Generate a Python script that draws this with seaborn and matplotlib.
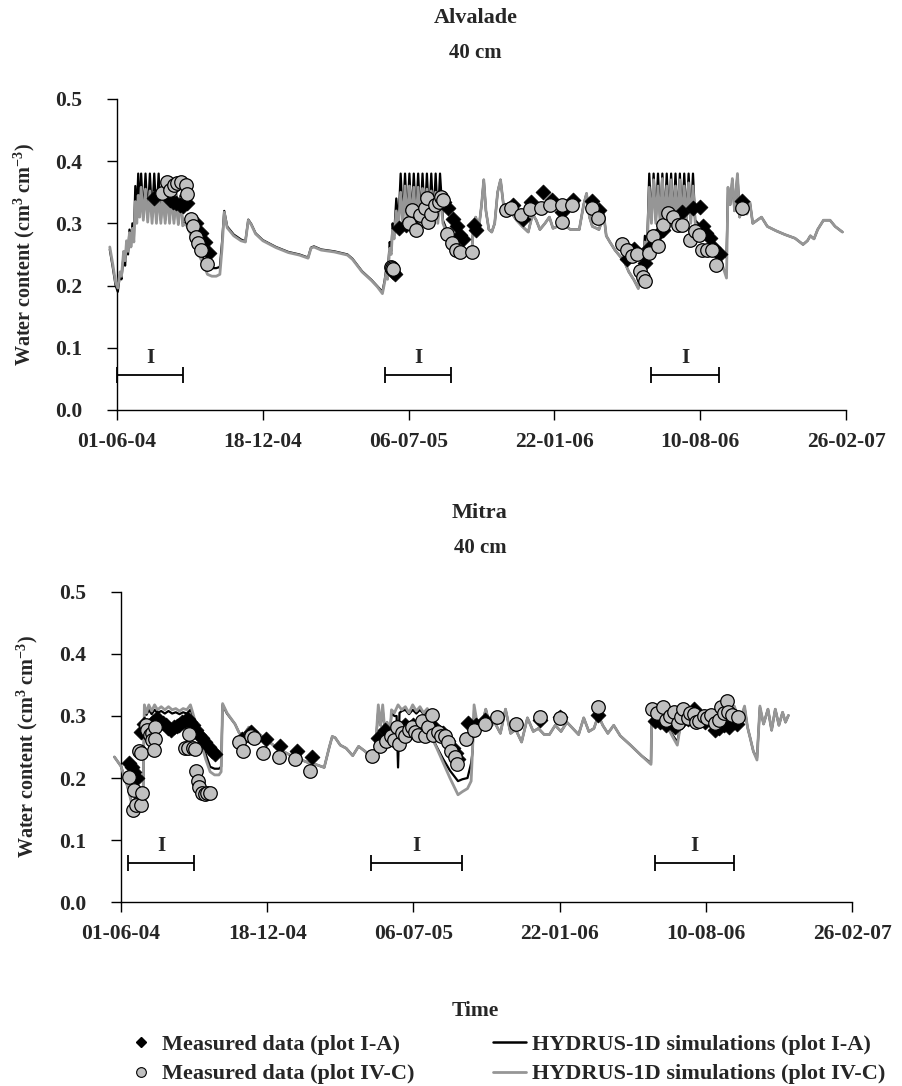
import numpy as np
import pandas as pd
import matplotlib
matplotlib.use("Agg")
import matplotlib.pyplot as plt
from matplotlib.lines import Line2D
import seaborn as sns

# ---------------- data (x = days since 01-06-04) ----------------
tick_days = [0, 200, 400, 600, 800, 1000]
tick_labels = ["01-06-04", "18-12-04", "06-07-05", "22-01-06", "10-08-06", "26-02-07"]
y_ticks = [0.0, 0.1, 0.2, 0.3, 0.4, 0.5]

# Alvalade - HYDRUS-1D plot IV-C (grey)
alv_sim_ivc = [(-10, 0.262), (-6, 0.235), (-2, 0.205), (1, 0.196), (4, 0.222), (6, 0.215), (9, 0.255), (11, 0.24),
    (13, 0.272), (15, 0.255), (17, 0.285), (19, 0.262), (21, 0.292), (23, 0.27), (25, 0.335), (27, 0.30),
    (29, 0.345), (31, 0.31), (33, 0.358), (36, 0.305), (39, 0.355), (42, 0.302), (45, 0.352), (48, 0.30),
    (51, 0.35), (54, 0.30), (57, 0.35), (60, 0.30), (63, 0.348), (66, 0.30), (69, 0.348), (72, 0.30),
    (75, 0.346), (78, 0.30), (81, 0.345), (84, 0.298), (87, 0.34), (90, 0.296), (94, 0.30), (100, 0.285),
    (106, 0.265), (112, 0.25), (118, 0.235), (124, 0.218), (130, 0.215), (136, 0.215), (141, 0.218),
    (144, 0.26), (147, 0.318), (151, 0.293), (160, 0.28), (170, 0.272), (176, 0.27), (180, 0.305),
    (184, 0.298), (190, 0.283), (200, 0.272), (218, 0.261), (235, 0.253), (250, 0.249), (262, 0.244),
    (266, 0.26), (270, 0.262), (280, 0.257), (298, 0.254), (316, 0.249), (323, 0.242), (336, 0.222),
    (349, 0.208), (357, 0.198), (364, 0.187), (367, 0.205), (369, 0.22), (371, 0.21), (374, 0.26),
    (376, 0.25), (378, 0.29), (380, 0.275), (383, 0.32), (386, 0.295), (389, 0.35), (392, 0.30),
    (395, 0.36), (398, 0.30), (401, 0.36), (404, 0.30), (407, 0.358), (410, 0.30), (413, 0.358),
    (416, 0.30), (419, 0.356), (422, 0.30), (425, 0.355), (428, 0.30), (431, 0.352), (434, 0.30),
    (437, 0.35), (440, 0.30), (443, 0.348), (447, 0.30), (452, 0.285), (460, 0.27), (468, 0.26),
    (476, 0.255), (484, 0.25), (487, 0.26), (489, 0.30), (492, 0.31), (496, 0.29), (500, 0.33),
    (503, 0.37), (506, 0.32), (510, 0.29), (514, 0.286), (518, 0.30), (522, 0.35), (526, 0.37),
    (530, 0.33), (536, 0.32), (542, 0.315), (548, 0.305), (556, 0.295), (564, 0.286), (570, 0.315),
    (575, 0.305), (580, 0.29), (587, 0.30), (593, 0.31), (598, 0.292), (604, 0.295), (610, 0.31),
    (616, 0.295), (622, 0.29), (628, 0.29), (634, 0.29), (640, 0.33), (644, 0.348), (648, 0.31),
    (652, 0.295), (656, 0.293), (661, 0.29), (664, 0.30), (667, 0.32), (671, 0.28), (676, 0.27),
    (683, 0.257), (690, 0.247), (696, 0.238), (702, 0.222), (709, 0.209), (715, 0.195), (718, 0.23),
    (721, 0.215), (724, 0.27), (727, 0.25), (730, 0.358), (733, 0.30), (736, 0.37), (739, 0.30),
    (742, 0.36), (745, 0.30), (748, 0.372), (751, 0.30), (754, 0.36), (757, 0.30), (760, 0.37),
    (763, 0.30), (766, 0.36), (769, 0.30), (772, 0.37), (775, 0.30), (778, 0.36), (781, 0.30),
    (784, 0.365), (787, 0.30), (790, 0.36), (793, 0.30), (797, 0.295), (804, 0.28), (812, 0.271),
    (820, 0.255), (829, 0.238), (836, 0.212), (838, 0.358), (841, 0.33), (844, 0.372), (847, 0.32),
    (851, 0.38), (854, 0.31), (859, 0.33), (864, 0.315), (868, 0.334), (872, 0.30), (884, 0.31),
    (892, 0.295), (904, 0.288), (916, 0.282), (930, 0.276), (941, 0.266), (947, 0.272), (951, 0.28),
    (956, 0.275), (961, 0.29), (969, 0.305), (978, 0.305), (985, 0.295), (995, 0.286)]

# Alvalade - HYDRUS-1D plot I-A (black)
alv_sim_ia = [(-10, 0.258), (-6, 0.23), (-2, 0.2), (1, 0.19), (4, 0.218), (6, 0.21), (9, 0.25), (11, 0.232),
    (13, 0.27), (15, 0.25), (17, 0.29), (19, 0.262), (21, 0.30), (23, 0.275), (25, 0.36), (27, 0.31),
    (29, 0.38), (31, 0.315), (33, 0.38), (36, 0.31), (39, 0.38), (42, 0.31), (45, 0.38), (48, 0.31),
    (51, 0.38), (54, 0.31), (57, 0.38), (60, 0.305), (63, 0.355), (66, 0.305), (69, 0.35), (72, 0.305),
    (75, 0.35), (78, 0.305), (81, 0.348), (84, 0.30), (87, 0.345), (90, 0.30), (94, 0.30), (100, 0.29),
    (106, 0.272), (112, 0.258), (118, 0.245), (124, 0.23), (130, 0.228), (136, 0.228), (141, 0.23),
    (144, 0.27), (147, 0.32), (151, 0.295), (160, 0.282), (170, 0.274), (176, 0.271), (180, 0.306),
    (184, 0.299), (190, 0.284), (200, 0.273), (218, 0.262), (235, 0.254), (250, 0.25), (262, 0.245),
    (266, 0.261), (270, 0.263), (280, 0.258), (298, 0.255), (316, 0.25), (323, 0.243), (336, 0.223),
    (349, 0.209), (357, 0.199), (364, 0.19), (367, 0.208), (369, 0.225), (371, 0.215), (374, 0.27),
    (376, 0.255), (378, 0.30), (380, 0.28), (383, 0.34), (386, 0.30), (389, 0.38), (392, 0.305),
    (395, 0.38), (398, 0.305), (401, 0.38), (404, 0.305), (407, 0.38), (410, 0.305), (413, 0.38),
    (416, 0.305), (419, 0.38), (422, 0.305), (425, 0.38), (428, 0.305), (431, 0.38), (434, 0.305),
    (437, 0.38), (440, 0.305), (443, 0.38), (447, 0.305), (452, 0.29), (460, 0.275), (468, 0.265),
    (476, 0.258), (484, 0.253), (487, 0.262), (489, 0.30), (492, 0.31), (496, 0.29), (500, 0.33),
    (503, 0.37), (506, 0.32), (510, 0.29), (514, 0.286), (518, 0.30), (522, 0.35), (526, 0.37),
    (530, 0.33), (536, 0.32), (542, 0.315), (548, 0.305), (556, 0.295), (564, 0.286), (570, 0.315),
    (575, 0.305), (580, 0.29), (587, 0.30), (593, 0.31), (598, 0.292), (604, 0.295), (610, 0.31),
    (616, 0.295), (622, 0.29), (628, 0.29), (634, 0.29), (640, 0.33), (644, 0.348), (648, 0.31),
    (652, 0.295), (656, 0.293), (661, 0.29), (664, 0.30), (667, 0.32), (671, 0.28), (676, 0.27),
    (683, 0.257), (690, 0.247), (696, 0.238), (702, 0.222), (709, 0.209), (715, 0.196), (718, 0.235),
    (721, 0.22), (724, 0.28), (727, 0.26), (730, 0.38), (733, 0.305), (736, 0.38), (739, 0.305),
    (742, 0.38), (745, 0.305), (748, 0.38), (751, 0.305), (754, 0.38), (757, 0.305), (760, 0.38),
    (763, 0.305), (766, 0.38), (769, 0.305), (772, 0.38), (775, 0.305), (778, 0.38), (781, 0.305),
    (784, 0.38), (787, 0.305), (790, 0.38), (793, 0.305), (797, 0.30), (804, 0.285), (812, 0.275),
    (820, 0.262), (829, 0.252), (836, 0.245), (838, 0.355), (841, 0.33), (844, 0.37), (847, 0.32),
    (851, 0.378), (854, 0.31), (859, 0.33), (864, 0.315), (868, 0.334), (872, 0.30), (884, 0.31),
    (892, 0.295), (904, 0.288), (916, 0.282), (930, 0.276), (941, 0.266), (947, 0.272), (951, 0.28),
    (956, 0.275), (961, 0.29), (969, 0.305), (978, 0.305), (985, 0.295), (995, 0.286)]

# Alvalade - measured data
alv_obs_ia = [(50, 0.341), (72, 0.338), (77, 0.335), (81, 0.333), (86, 0.33), (90, 0.328), (96, 0.332),
    (108, 0.30), (115, 0.285), (120, 0.27), (126, 0.252),
    (379, 0.221), (381, 0.218), (387, 0.293), (396, 0.298), (407, 0.295), (420, 0.31), (428, 0.33),
    (440, 0.335), (448, 0.335), (454, 0.324), (461, 0.307), (466, 0.295), (470, 0.281), (475, 0.275),
    (490, 0.298), (493, 0.29),
    (543, 0.329), (557, 0.307), (568, 0.334), (584, 0.35), (597, 0.338), (610, 0.319), (626, 0.338),
    (651, 0.336), (661, 0.322),
    (699, 0.242), (704, 0.256), (709, 0.259), (724, 0.237), (729, 0.26), (742, 0.283), (749, 0.29),
    (775, 0.319), (790, 0.324), (799, 0.326), (804, 0.295), (808, 0.285), (813, 0.276), (817, 0.262),
    (822, 0.255), (827, 0.25), (857, 0.336)]
alv_obs_ivc = [(62, 0.348), (68, 0.367), (73, 0.353), (78, 0.362), (82, 0.365), (88, 0.367), (94, 0.362),
    (96, 0.347), (102, 0.307), (104, 0.296), (108, 0.278), (111, 0.269), (115, 0.257), (124, 0.235),
    (376, 0.23), (377, 0.228), (378, 0.226), (400, 0.30), (405, 0.322), (410, 0.29), (416, 0.314),
    (423, 0.324), (425, 0.341), (427, 0.302), (430, 0.315), (436, 0.329), (441, 0.334), (445, 0.343),
    (447, 0.338), (452, 0.283), (459, 0.269), (465, 0.257), (470, 0.254), (487, 0.254),
    (534, 0.322), (541, 0.324), (554, 0.314), (566, 0.323), (581, 0.324), (594, 0.329), (610, 0.329),
    (610, 0.302), (624, 0.329), (651, 0.324), (660, 0.309),
    (693, 0.267), (699, 0.257), (706, 0.247), (713, 0.25), (717, 0.223), (722, 0.213), (724, 0.208),
    (729, 0.252), (735, 0.28), (742, 0.264), (749, 0.298), (756, 0.317), (762, 0.31), (769, 0.298),
    (775, 0.298), (786, 0.274), (793, 0.288), (798, 0.282), (802, 0.257), (809, 0.257), (816, 0.257),
    (822, 0.233), (857, 0.324)]

# Mitra - HYDRUS-1D plot IV-C (grey)
mit_sim_ivc = [(-9, 0.234), (0, 0.219), (9, 0.186), (15, 0.157), (20, 0.165), (25, 0.155), (30, 0.152),
    (32, 0.318), (35, 0.305), (38, 0.318), (42, 0.308), (46, 0.318), (50, 0.31), (55, 0.315), (60, 0.31),
    (65, 0.315), (70, 0.31), (75, 0.312), (80, 0.308), (85, 0.312), (90, 0.31), (95, 0.318), (98, 0.306),
    (104, 0.28), (110, 0.255), (116, 0.23), (122, 0.21), (128, 0.205), (134, 0.205), (137, 0.21),
    (139, 0.32), (145, 0.305), (156, 0.287), (162, 0.272), (168, 0.27), (175, 0.282), (180, 0.28),
    (192, 0.268), (214, 0.248), (236, 0.234), (258, 0.224), (266, 0.222), (278, 0.217), (285, 0.25),
    (289, 0.267), (293, 0.265), (300, 0.253), (308, 0.248), (317, 0.236), (325, 0.251), (334, 0.243),
    (343, 0.231), (348, 0.248), (352, 0.318), (355, 0.285), (358, 0.318), (361, 0.275), (364, 0.29),
    (367, 0.25), (370, 0.31), (374, 0.305), (379, 0.318), (384, 0.31), (389, 0.315), (394, 0.305),
    (399, 0.318), (404, 0.308), (409, 0.315), (414, 0.305), (419, 0.312), (424, 0.30), (428, 0.258),
    (432, 0.248), (441, 0.224), (450, 0.20), (461, 0.173), (467, 0.178), (474, 0.183), (479, 0.195),
    (481, 0.248), (483, 0.318), (487, 0.29), (492, 0.277), (499, 0.311), (505, 0.282), (511, 0.29),
    (519, 0.272), (526, 0.311), (533, 0.272), (540, 0.278), (548, 0.258), (556, 0.297), (564, 0.275),
    (571, 0.28), (579, 0.27), (586, 0.27), (594, 0.285), (602, 0.275), (610, 0.29), (618, 0.28),
    (626, 0.27), (633, 0.297), (640, 0.275), (647, 0.28), (653, 0.301), (659, 0.285), (666, 0.272),
    (674, 0.285), (683, 0.268), (697, 0.253), (712, 0.236), (725, 0.222), (726, 0.292), (735, 0.30),
    (744, 0.29), (753, 0.27), (761, 0.253), (766, 0.29), (777, 0.30), (790, 0.295), (803, 0.298),
    (818, 0.296), (831, 0.30), (839, 0.316), (846, 0.29), (853, 0.316), (857, 0.282), (861, 0.263),
    (865, 0.243), (870, 0.229), (874, 0.316), (879, 0.287), (885, 0.311), (890, 0.277), (895, 0.311),
    (900, 0.285), (905, 0.306), (909, 0.29), (913, 0.301)]

# Mitra - HYDRUS-1D plot I-A (black)
mit_sim_ia = [(-9, 0.234), (0, 0.219), (9, 0.186), (15, 0.16), (20, 0.168), (25, 0.158), (30, 0.155),
    (32, 0.31), (35, 0.302), (38, 0.31), (42, 0.303), (46, 0.31), (50, 0.305), (55, 0.308), (60, 0.304),
    (65, 0.308), (70, 0.304), (75, 0.306), (80, 0.303), (85, 0.306), (90, 0.304), (95, 0.31), (98, 0.302),
    (104, 0.282), (110, 0.26), (116, 0.238), (122, 0.218), (128, 0.215), (134, 0.215), (137, 0.218),
    (139, 0.318), (145, 0.304), (156, 0.287), (162, 0.272), (168, 0.27), (175, 0.282), (180, 0.28),
    (192, 0.268), (214, 0.248), (236, 0.234), (258, 0.224), (266, 0.222), (278, 0.217), (285, 0.25),
    (289, 0.267), (293, 0.265), (300, 0.253), (308, 0.248), (317, 0.236), (325, 0.251), (334, 0.243),
    (343, 0.231), (348, 0.248), (352, 0.31), (355, 0.285), (358, 0.31), (361, 0.275), (364, 0.29),
    (367, 0.255), (370, 0.305), (374, 0.30), (377, 0.30), (379, 0.217), (381, 0.305), (384, 0.308),
    (389, 0.31), (394, 0.303), (399, 0.31), (404, 0.304), (409, 0.31), (414, 0.303), (419, 0.308),
    (424, 0.298), (428, 0.26), (432, 0.25), (441, 0.23), (450, 0.212), (461, 0.195), (467, 0.198),
    (474, 0.20), (479, 0.224), (481, 0.243), (483, 0.31), (487, 0.29), (492, 0.277), (499, 0.311),
    (505, 0.282), (511, 0.29), (519, 0.272), (526, 0.311), (533, 0.272), (540, 0.278), (548, 0.258),
    (556, 0.297), (564, 0.275), (571, 0.28), (579, 0.27), (586, 0.27), (594, 0.285), (602, 0.275),
    (610, 0.29), (618, 0.28), (626, 0.27), (633, 0.297), (640, 0.275), (647, 0.28), (653, 0.301),
    (659, 0.285), (666, 0.272), (674, 0.285), (683, 0.268), (697, 0.253), (712, 0.236), (725, 0.224),
    (726, 0.29), (735, 0.298), (744, 0.288), (753, 0.272), (761, 0.258), (766, 0.288), (777, 0.298),
    (790, 0.293), (803, 0.296), (818, 0.294), (831, 0.298), (839, 0.314), (846, 0.29), (853, 0.314),
    (857, 0.282), (861, 0.263), (865, 0.243), (870, 0.232), (874, 0.314), (879, 0.287), (885, 0.311),
    (890, 0.277), (895, 0.311), (900, 0.285), (905, 0.306), (909, 0.29), (913, 0.301)]

# Mitra - measured data
mit_obs_ia = [(11, 0.224), (15, 0.218), (18, 0.21), (22, 0.20), (27, 0.275), (31, 0.287), (36, 0.28),
    (40, 0.285), (44, 0.29), (49, 0.297), (53, 0.29), (57, 0.288), (61, 0.285), (65, 0.28), (69, 0.278),
    (73, 0.282), (77, 0.284), (80, 0.286), (84, 0.29), (88, 0.292), (92, 0.295), (95, 0.29), (99, 0.285),
    (103, 0.278), (107, 0.27), (111, 0.265), (115, 0.258), (120, 0.25), (125, 0.243), (129, 0.238),
    (165, 0.263), (178, 0.275), (198, 0.263), (218, 0.251), (241, 0.243), (261, 0.234),
    (352, 0.265), (361, 0.277), (369, 0.27), (379, 0.283), (388, 0.285), (399, 0.285), (409, 0.28),
    (419, 0.285), (428, 0.282), (435, 0.275), (441, 0.272), (447, 0.26), (454, 0.248), (458, 0.24),
    (461, 0.231), (475, 0.288), (486, 0.285), (498, 0.294), (573, 0.294), (600, 0.299), (652, 0.301),
    (730, 0.292), (737, 0.29), (746, 0.285), (758, 0.282), (766, 0.29), (776, 0.295), (784, 0.311),
    (791, 0.30), (799, 0.29), (812, 0.277), (818, 0.28), (825, 0.285), (832, 0.282), (839, 0.29),
    (843, 0.287)]
mit_obs_ivc = [(11, 0.202), (16, 0.149), (18, 0.181), (20, 0.157), (25, 0.243), (27, 0.157), (29, 0.176),
    (28, 0.24), (34, 0.286), (36, 0.277), (40, 0.27), (42, 0.272), (43, 0.261), (47, 0.282), (47, 0.263),
    (45, 0.245), (87, 0.248), (91, 0.249), (93, 0.271), (98, 0.248), (101, 0.247), (102, 0.212),
    (105, 0.195), (107, 0.186), (111, 0.176), (115, 0.174), (118, 0.176), (122, 0.176),
    (162, 0.258), (167, 0.243), (178, 0.268), (182, 0.265), (194, 0.241), (216, 0.234), (238, 0.231),
    (258, 0.212),
    (343, 0.236), (354, 0.251), (363, 0.26), (370, 0.268), (374, 0.262), (378, 0.282), (380, 0.255),
    (384, 0.272), (388, 0.268), (394, 0.277), (398, 0.282), (402, 0.275), (406, 0.27), (412, 0.292),
    (416, 0.268), (420, 0.282), (425, 0.301), (427, 0.27), (433, 0.275), (438, 0.268), (443, 0.268),
    (448, 0.258), (452, 0.243), (457, 0.234), (459, 0.222), (472, 0.263), (483, 0.277), (498, 0.287),
    (514, 0.299), (540, 0.287), (573, 0.299), (600, 0.297), (652, 0.314),
    (727, 0.311), (733, 0.305), (741, 0.314), (746, 0.294), (751, 0.30), (757, 0.306), (762, 0.289),
    (766, 0.299), (769, 0.311), (775, 0.296), (778, 0.305), (784, 0.304), (787, 0.29), (791, 0.292),
    (798, 0.30), (802, 0.296), (807, 0.301), (812, 0.289), (818, 0.294), (821, 0.314), (825, 0.305),
    (829, 0.324), (830, 0.306), (836, 0.302), (844, 0.299)]

# Irrigation periods ("I")
alv_irrig = [(0, 90), (368, 458), (733, 826)]
mit_irrig = [(10, 100), (342, 466), (730, 839)]
alv_irrig_level = 0.056
mit_irrig_level = 0.063

# ---------------- style ----------------
sns.set_theme(style="white")
plt.rcParams["font.family"] = ["Liberation Serif", "DejaVu Serif"]
plt.rcParams["font.weight"] = "bold"
plt.rcParams["mathtext.fontset"] = "custom"
plt.rcParams["mathtext.rm"] = "Liberation Serif:bold"
plt.rcParams["mathtext.it"] = "Liberation Serif:bold"
plt.rcParams["mathtext.bf"] = "Liberation Serif:bold"
plt.rcParams["mathtext.default"] = "regular"

BLACK = "#000000"
GREY_LINE = "#969696"
GREY_FILL = "#c0c0c0"
FS_TICK = 15.5
FS_LAB = 14.5
FS_LEG = 16

fig = plt.figure(figsize=(9.02, 10.86), dpi=100)
ax1 = fig.add_axes([0.1201, 0.6225, 0.8179, 0.2864])
ax2 = fig.add_axes([0.1244, 0.1694, 0.8202, 0.2855])


def to_df(pairs):
    return pd.DataFrame(pairs, columns=["day", "theta"])


def draw(ax, sim_ia, sim_ivc, obs_ia, obs_ivc, irrig, level):
    sns.lineplot(data=to_df(sim_ia), x="day", y="theta", ax=ax, color=BLACK, lw=1.6,
                 sort=False, estimator=None, zorder=2)
    sns.lineplot(data=to_df(sim_ivc), x="day", y="theta", ax=ax, color=GREY_LINE, lw=2.0,
                 sort=False, estimator=None, zorder=3)
    sns.scatterplot(data=to_df(obs_ia), x="day", y="theta", ax=ax, marker="D", s=58,
                    color=BLACK, edgecolor=BLACK, linewidth=0.5, zorder=4)
    sns.scatterplot(data=to_df(obs_ivc), x="day", y="theta", ax=ax, marker="o", s=95,
                    color=GREY_FILL, edgecolor=BLACK, linewidth=0.9, zorder=5)
    for a, b in irrig:
        ax.errorbar([(a + b) / 2], [level], xerr=[[(b - a) / 2], [(b - a) / 2]], fmt="none",
                    ecolor=BLACK, elinewidth=1.3, capsize=6, capthick=1.3, zorder=6)
        ax.text((a + b) / 2, level + 0.011, "I", ha="center", va="bottom",
                fontsize=15, fontweight="bold")
    ax.set_xlim(-12, 1000)
    ax.set_ylim(0, 0.5)
    ax.set_xticks(tick_days)
    ax.set_xticklabels(tick_labels)
    ax.set_yticks(y_ticks)
    ax.set_yticklabels([f"{v:.1f}" for v in y_ticks])
    ax.set_xlabel("")
    ax.set_ylabel("Water content (cm$^{3}$ cm$^{-3}$)", fontsize=FS_LAB, fontweight="bold")
    for s in ["top", "right"]:
        ax.spines[s].set_visible(False)
    ax.spines["left"].set_position(("data", 0))
    ax.spines["bottom"].set_bounds(0, 1000)
    for s in ["left", "bottom"]:
        ax.spines[s].set_color(BLACK)
        ax.spines[s].set_linewidth(1.0)
    ax.tick_params(axis="both", which="major", direction="out", length=7, width=1.0,
                   color=BLACK, labelsize=FS_TICK, bottom=True, left=True)
    ax.tick_params(axis="y", pad=18)
    ax.tick_params(axis="x", pad=9)
    for lbl in ax.get_xticklabels() + ax.get_yticklabels():
        lbl.set_fontweight("bold")
    ax.yaxis.set_label_coords(-0.097, 0.5)


draw(ax1, alv_sim_ia, alv_sim_ivc, alv_obs_ia, alv_obs_ivc, alv_irrig, alv_irrig_level)
draw(ax2, mit_sim_ia, mit_sim_ivc, mit_obs_ia, mit_obs_ivc, mit_irrig, mit_irrig_level)

fig.text(0.527, 0.983, "Alvalade", ha="center", va="center", fontsize=16, fontweight="bold")
fig.text(0.527, 0.951, "40 cm", ha="center", va="center", fontsize=15, fontweight="bold")
fig.text(0.532, 0.528, "Mitra", ha="center", va="center", fontsize=16, fontweight="bold")
fig.text(0.532, 0.495, "40 cm", ha="center", va="center", fontsize=15, fontweight="bold")
fig.text(0.527, 0.069, "Time", ha="center", va="center", fontsize=FS_TICK, fontweight="bold")

marker_handles = [
    Line2D([], [], ls="none", marker="D", ms=5.5, color=BLACK, mec=BLACK),
    Line2D([], [], ls="none", marker="o", ms=7, mfc=GREY_FILL, mec=BLACK, mew=0.8),
]
line_handles = [
    Line2D([], [], color=BLACK, lw=1.8),
    Line2D([], [], color=GREY_LINE, lw=2.0),
]
marker_labels = ["Measured data (plot I-A)", "Measured data (plot IV-C)"]
line_labels = ["HYDRUS-1D simulations (plot I-A)", "HYDRUS-1D simulations (plot IV-C)"]
leg_prop = {"family": "Liberation Serif", "weight": "bold", "size": FS_LEG}
fig.legend(marker_handles, marker_labels, loc="center left", bbox_to_anchor=(125 / 902, 0.0245),
           frameon=False, prop=leg_prop, borderpad=0, borderaxespad=0,
           handlelength=1.4, handletextpad=0.25, labelspacing=0.4)
fig.legend(line_handles, line_labels, loc="center left", bbox_to_anchor=(493 / 902, 0.0245),
           frameon=False, prop=leg_prop, borderpad=0, borderaxespad=0,
           handlelength=1.5, handletextpad=0.25, labelspacing=0.4)

fig.savefig("out.png", dpi=100, facecolor="white")
